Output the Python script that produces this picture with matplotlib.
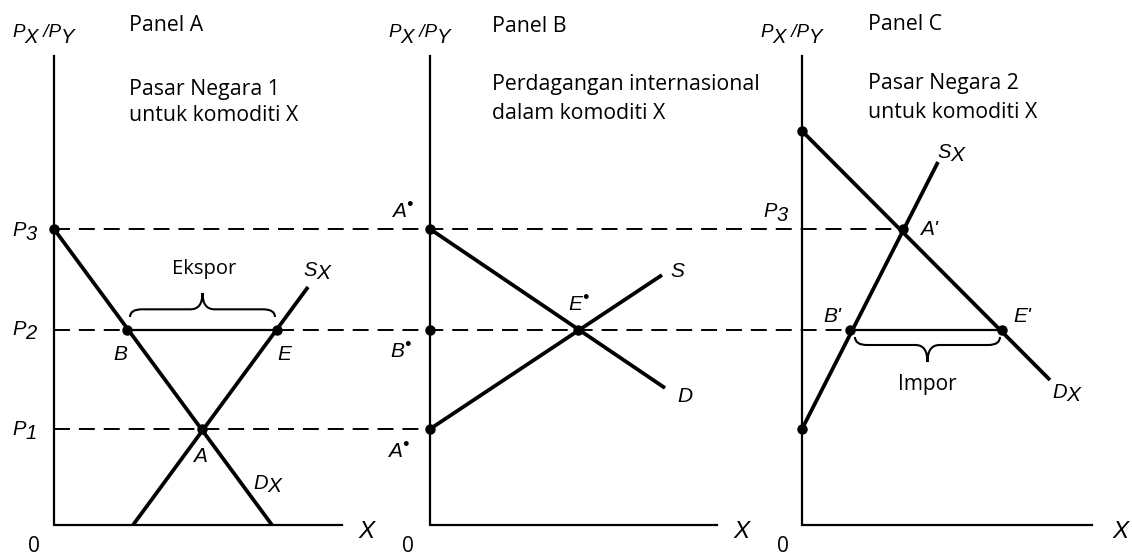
import matplotlib.pyplot as plt
from matplotlib.path import Path
from matplotlib.patches import PathPatch

# price levels shared by the three panels (units above the X axis)
P1, P2, P3 = 0.96, 1.95, 2.96

# Panel A - market of country 1
dA_q, dA_p = [0.00, 2.18], [P3, 0.00]
sA_q, sA_p = [0.79, 2.54], [0.00, 2.38]
ptsA_q = [0.00, 0.73, 1.48, 2.23]      # P3 intercept, B, A, E
ptsA_p = [P3, P2, P1, P2]

# Panel B - international trade
dB_q, dB_p = [0.00, 2.35], [P3, 1.37]
sB_q, sB_p = [0.00, 2.32], [P1, 2.50]
ptsB_q = [0.00, 0.00, 0.00, 1.48]      # A* top, B*, A* bottom, E*
ptsB_p = [P3, P2, P1, P2]

# Panel C - market of country 2
dC_q, dC_p = [0.00, 2.48], [3.94, 1.45]
sC_q, sC_p = [0.00, 1.36], [P1, 3.63]
ptsC_q = [0.00, 1.01, 0.48, 2.00, 0.00]  # D intercept, A', B', E', S intercept
ptsC_p = [3.94, P3, P2, P2, P1]

export_q = [0.73, 2.23]   # B .. E
import_q = [0.48, 2.00]   # B' .. E'

ITAL = ['Liberation Sans', 'DejaVu Sans']
plt.rcParams['font.family'] = ['Open Sans', 'DejaVu Sans']

W, H = 11.32, 5.55
fig = plt.figure(figsize=(W, H), dpi=100)
ax = fig.add_axes([0, 0, 1, 1])
ax.set_xlim(0, W)
ax.set_ylim(-0.30, H - 0.30)
ax.axis('off')

OX = [0.54, 4.30, 8.02]      # panel origins
XLEN = [2.88, 2.87, 2.90]
YTOP = 4.69
K = 'black'


def px(x):
    return x / 100.0


def py(y):
    return 5.25 - y / 100.0


def label(x, y, parts, fam=ITAL, style='italic'):
    first, size, _ = parts[0]
    t0 = ax.text(px(x), py(y), first, fontsize=size, family=fam, style=style,
                 ha='left', va='baseline')
    prev = t0
    for txt, size, drop in parts[1:]:
        prev = ax.annotate(txt, xy=(1, 0), xycoords=(prev, t0), xytext=(0, -drop),
                           textcoords='offset points', fontsize=size, family=fam,
                           style=style, ha='left', va='bottom')
    return t0


def brace(x0, x1, b, h, r=0.12):
    xm = (x0 + x1) / 2
    h1 = b + h * 0.32
    verts = [(x0, b), (x0, h1), (x0 + r, h1), (xm - r, h1), (xm, h1), (xm, b + h),
             (xm, h1), (xm + r, h1), (x1 - r, h1), (x1, h1), (x1, b)]
    codes = [Path.MOVETO, Path.CURVE3, Path.CURVE3, Path.LINETO, Path.CURVE3, Path.CURVE3,
             Path.CURVE3, Path.CURVE3, Path.LINETO, Path.CURVE3, Path.CURVE3]
    ax.add_patch(PathPatch(Path(verts, codes), fill=False, lw=1.5, ec=K))


# axes of each panel
for ox, xl in zip(OX, XLEN):
    ax.plot([ox, ox, ox + xl], [YTOP, 0, 0], color=K, lw=1.6, solid_joinstyle='miter')

# dashed price lines
dash = dict(color=K, lw=1.4, dashes=(8.2, 4.6))
ax.plot([OX[0], OX[2] + ptsC_q[1]], [P3, P3], **dash)
ax.plot([OX[0], OX[2] + import_q[1]], [P2, P2], **dash)
ax.plot([OX[0], OX[1]], [P1, P1], **dash)

# export / import segments
ax.plot([OX[0] + q for q in export_q], [P2, P2], color=K, lw=1.6)
ax.plot([OX[2] + q for q in import_q], [P2, P2], color=K, lw=1.6)

# demand and supply curves
curve = dict(color=K, lw=2.7, solid_capstyle='butt')
for ox, q, p in [(OX[0], dA_q, dA_p), (OX[0], sA_q, sA_p), (OX[1], dB_q, dB_p),
                 (OX[1], sB_q, sB_p), (OX[2], dC_q, dC_p), (OX[2], sC_q, sC_p)]:
    ax.plot([ox + v for v in q], p, **curve)

for ox, q, p in [(OX[0], ptsA_q, ptsA_p), (OX[1], ptsB_q, ptsB_p), (OX[2], ptsC_q, ptsC_p)]:
    ax.plot([ox + v for v in q], p, 'o', color=K, ms=6.5)

# braces
brace(OX[0] + 0.76, OX[0] + 2.21, P2 + 0.13, 0.24)
brace(OX[2] + 0.53, OX[2] + 1.98, P2 - 0.07, -0.25)

# axis titles
for x in [12, 388, 760]:
    label(x, 37, [('P', 13.5, 0), ('X', 14.5, 4), (' /P', 13.5, 0), ('Y', 14.5, 4)])
for x in [358, 733, 1112]:
    label(x, 538, [('X', 17.5, 0)])
for x in [28, 402, 777]:
    label(x, 552, [('0', 15, 0)], fam=None, style='normal')

# panel headings
heads = [(129, 31, 'Panel A', 95, 'Pasar Negara 1', 121, 'untuk komoditi X'),
         (492, 32, 'Panel B', 90, 'Perdagangan internasional', 119, 'dalam komoditi X'),
         (868, 30, 'Panel C', 89, 'Pasar Negara 2', 118, 'untuk komoditi X')]
for x, y0, t0, y1, t1, y2, t2 in heads:
    ax.text(px(x), py(y0), t0, fontsize=15.3, va='baseline')
    ax.text(px(x), py(y1), t1, fontsize=15.3, va='baseline')
    ax.text(px(x), py(y2), t2, fontsize=15.3, va='baseline')

# panel A labels
label(12, 236, [('P', 14.5, 0), ('3', 14.5, 3)])
label(12, 335, [('P', 14.5, 0), ('2', 14.5, 3)])
label(12, 435, [('P', 14.5, 0), ('1', 14.5, 3)])
label(113, 360, [('B', 15, 0)])
label(277, 360, [('E', 15, 0)])
label(193, 462, [('A', 15, 0)])
label(253, 489, [('D', 14.5, 0), ('X', 15, 2.5)])
label(303, 276, [('S', 14.5, 0), ('X', 15, 2.5)])
ax.text(px(172), py(274), 'Ekspor', fontsize=14.5, va='baseline')

# panel B labels
label(392, 217, [('A', 15, 0), ('\u2022', 13, -5)])
label(390, 357, [('B', 15, 0), ('\u2022', 13, -5)])
label(388, 457, [('A', 15, 0), ('\u2022', 13, -5)])
label(568, 310, [('E', 15, 0), ('\u2022', 13, -5)])
label(670, 277, [('S', 15, 0)])
label(677, 402, [('D', 15, 0)])

# panel C labels
label(763, 217, [('P', 14.5, 0), ('3', 14.5, 3)])
label(920, 235, [("A'", 15, 0)])
label(937, 158, [('S', 14.5, 0), ('X', 15, 2.5)])
label(823, 322, [("B'", 15, 0)])
label(1013, 322, [("E'", 15, 0)])
label(1052, 398, [('D', 14.5, 0), ('X', 15, 2.5)])
ax.text(px(898), py(390), 'Impor', fontsize=15, va='baseline')

fig.savefig('out.png', dpi=100)
